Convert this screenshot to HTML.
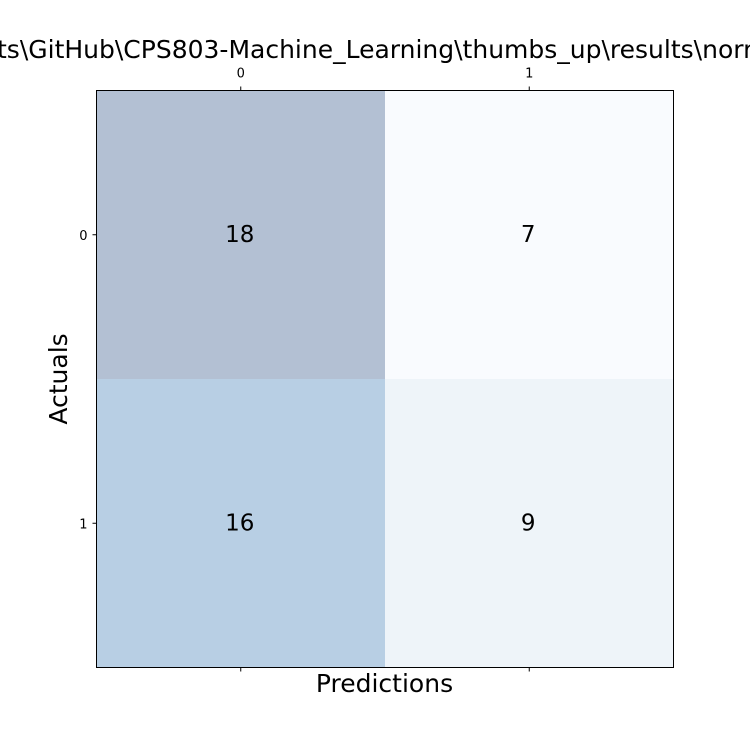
<!DOCTYPE html>
<html><head><meta charset="utf-8"><style>body{margin:0;background:#fff}svg{display:block;font-family:"DejaVu Sans","Liberation Sans",sans-serif}</style></head>
<body>
<svg id="chart" width="750" height="750">
<text x="-3" y="58" font-size="25" fill="#000">ts\GitHub\CPS803-Machine_Learning\thumbs_up\results\normalized</text>
<g id="cells"></g>
<g id="ticks"></g>
<rect x="96.5" y="90.5" width="577" height="577" fill="none" stroke="#000" stroke-width="1"/>
<text x="384.5" y="692" font-size="25" text-anchor="middle">Predictions</text>
<text transform="translate(67,379) rotate(-90)" font-size="25" text-anchor="middle">Actuals</text>
</svg>
<script>
const rowLabels=["0","1"];
const colLabels=["0","1"];
const values=[[18,7],[16,9]];
const colors=[["#b3c0d3","#f9fbfe"],["#b8cfe4","#eef4f9"]];
const ns="http://www.w3.org/2000/svg";
const x0=96.5,y0=90.5,size=577;
const cw=size/colLabels.length, ch=size/rowLabels.length;
const xPos=j=>x0+j*cw, yPos=i=>y0+i*ch;
const cg=document.getElementById('cells'), tg=document.getElementById('ticks');
function mk(tag,attrs,parent){const e=document.createElementNS(ns,tag);for(const k in attrs)e.setAttribute(k,attrs[k]);parent.appendChild(e);return e;}
values.forEach((row,i)=>row.forEach((v,j)=>{
 const r=mk('rect',{x:xPos(j),y:yPos(i),width:cw,height:ch,fill:colors[i][j]},cg);
 
 
 const t=mk('text',{x:xPos(j)+cw/2-1,y:yPos(i)+ch/2+7,'font-size':23,'text-anchor':'middle',fill:'#000'},cg);
 t.textContent=v;
 
 
}));
colLabels.forEach((l,j)=>{
 const cx=xPos(j)+cw/2;
 mk('line',{x1:cx,x2:cx,y1:y0,y2:y0-4,stroke:'#000'},tg);
 mk('line',{x1:cx,x2:cx,y1:y0+size,y2:y0+size+4,stroke:'#000'},tg);
 const t=mk('text',{x:cx,y:y0-13,'font-size':13,'text-anchor':'middle'},tg);
 t.textContent=l;
 
 
});
rowLabels.forEach((l,i)=>{
 const cy=yPos(i)+ch/2;
 mk('line',{x1:x0,x2:x0-4,y1:cy,y2:cy,stroke:'#000'},tg);
 const t=mk('text',{x:x0-9,y:cy+5,'font-size':13,'text-anchor':'end'},tg);
 t.textContent=l;
 
 
});
</script>
</body></html>
